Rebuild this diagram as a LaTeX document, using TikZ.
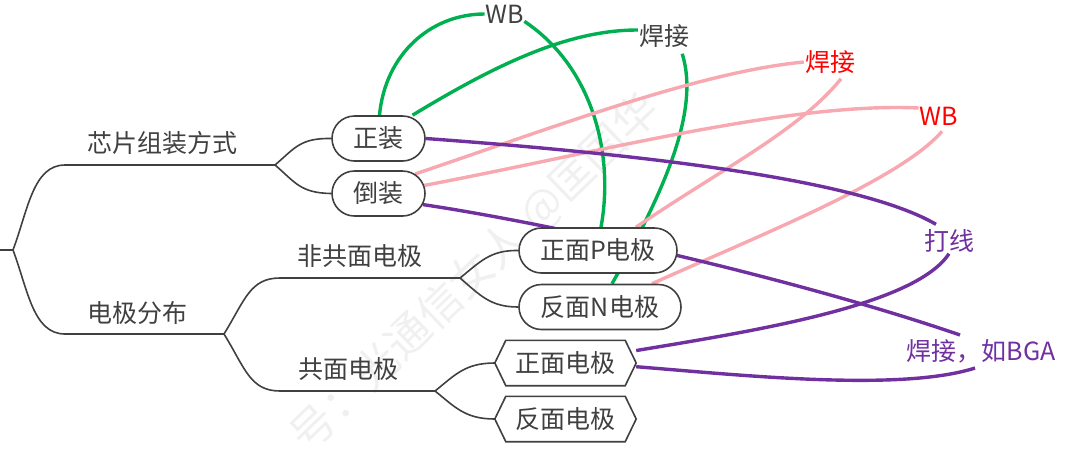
\documentclass[tikz,border=0pt]{standalone}
\usepackage{fontspec}
\setmainfont{Noto Sans CJK SC}
\usetikzlibrary{shapes.misc,backgrounds}
\definecolor{ink}{HTML}{404040}
\definecolor{gr}{HTML}{00B050}
\definecolor{pk}{HTML}{F7A8B0}
\definecolor{pu}{HTML}{7030A0}
\tikzset{
  x=1pt,y=-1pt,
  every node/.style={font=\fontsize{25}{25}\selectfont,text=ink,inner sep=0pt},
  pill/.style={draw=ink,line width=1.6pt,fill=white,rounded rectangle,minimum height=45pt},
  hexbox/.style={minimum width=141pt,minimum height=45pt},
  hexline/.style={draw=ink,line width=1.6pt,fill=white},
  branch/.style={draw=ink,line width=1.6pt},
  grn/.style={draw=gr,line width=3.4pt},
  pnk/.style={draw=pk,line width=3.4pt},
  pur/.style={draw=pu,line width=3.4pt},
  free/.style={inner sep=1pt},
  wm/.style={text=black!6,font=\fontsize{44}{44}\selectfont,rotate=44}
}
\begin{document}
\begin{tikzpicture}
\useasboundingbox (0,0) rectangle (1080,451);
% labels
\node (l1) at (162,143) {芯片组装方式};
\node (l2) at (137,313) {电极分布};
\node (l3) at (360,256) {非共面电极};
\node (l4) at (348,369) {共面电极};
% nodes
\node[pill,minimum width=93pt] (zz) at (378.5,138.5) {正装};
\node[pill,minimum width=93pt] (dz) at (378.5,193.5) {倒装};
\node[pill,minimum width=158pt] (zp) at (598,250.5) {正面P电极};
\node[pill,minimum width=162pt] (fn) at (600,307) {反面N电极};
\node[hexbox] (zm) at (565.5,363) {正面电极};
\node[hexbox] (fm) at (565.5,419) {反面电极};
\node[free] (wb) at (505,14) {WB};
\node[free] (hj) at (664,36) {焊接};
\node[free,text=red] (hr) at (830,62) {焊接};
\node[free,text=red] (wr) at (939,116) {WB};
\node[free,text=pu] (dx) at (949,241) {打线};
\node[free,text=pu] (bga) at (981,351) {焊接，如BGA};
\coordinate (stub) at (0,250);
\coordinate (root) at (13,250);
\coordinate (j1) at (275,165);
\coordinate (j2) at (224,334);
\coordinate (j3) at (460,278);
\coordinate (j4) at (435,391);
\begin{scope}[on background layer]
\node[wm] (mark) at (475,273) {号：光通信女人 @匡国华};
\draw[branch] (stub) -- (root);
\draw[branch] (root) .. controls (28,210) and (33,165) .. (65,165) -- (j1);
\draw[branch] (root) .. controls (28,290) and (33,334) .. (65,334) -- (j2);
\draw[branch] (j1) .. controls (295,148) and (300,138) .. (zz.west);
\draw[branch] (j1) .. controls (295,182) and (300,193) .. (dz.west);
\draw[branch] (j2) .. controls (245,300) and (250,278) .. (280,278) -- (j3);
\draw[branch] (j2) .. controls (245,368) and (250,391) .. (280,391) -- (j4);
\draw[branch] (j3) .. controls (480,262) and (490,250) .. (zp.west);
\draw[branch] (j3) .. controls (480,295) and (490,307) .. (fn.west);
\draw[branch] (j4) .. controls (455,375) and (465,363) .. (zm.west);
\draw[branch] (j4) .. controls (455,407) and (465,419) .. (fm.west);
% green
\draw[grn] ([xshift=1pt]zz.north) .. controls (385,55) and (430,14) .. (wb.west);
\draw[grn] ([xshift=-1pt,yshift=3pt]wb.south east) .. controls (590,65) and (615,150) .. ([xshift=3pt]zp.north);
\draw[grn] ([xshift=34pt]zz.north) .. controls (500,62) and (570,30) .. ([yshift=6pt]hj.west);
\draw[grn] ([xshift=-8pt,yshift=-5pt]hj.south east) .. controls (700,110) and (665,190) .. ([xshift=12pt]fn.north);
% pink
\draw[pnk] (dz.28) .. controls (560,125) and (700,72) .. (hr.west);
\draw[pnk] (dz.10) .. controls (600,152) and (790,102) .. ([yshift=8pt]wr.west);
\draw[pnk] ([xshift=11pt,yshift=-4pt]hr.south) .. controls (800,130) and (720,170) .. ([xshift=38pt]zp.north);
\draw[pnk] ([xshift=3pt,yshift=-5pt]wr.south) .. controls (900,180) and (760,235) .. ([xshift=52pt]fn.north);
% purple
\draw[pur] (zz.east) .. controls (650,155) and (860,180) .. ([xshift=-13pt,yshift=4pt]dx.north);
\draw[pur] (dz.-14) .. controls (560,225) and (800,280) .. ([xshift=-21pt,yshift=3pt]bga.north);
\draw[pur] (dx.south) .. controls (915,305) and (760,330) .. (zm.10);
\draw[pur] (zm.-3) .. controls (740,375) and (900,392) .. ([xshift=-6pt,yshift=-4pt]bga.south);
% hexagons
\draw[hexline] (zm.west) -- ([xshift=11pt]zm.north west) -- ([xshift=-11pt]zm.north east) -- (zm.east) -- ([xshift=-11pt]zm.south east) -- ([xshift=11pt]zm.south west) -- cycle;
\draw[hexline] (fm.west) -- ([xshift=11pt]fm.north west) -- ([xshift=-11pt]fm.north east) -- (fm.east) -- ([xshift=-11pt]fm.south east) -- ([xshift=11pt]fm.south west) -- cycle;
\end{scope}
\end{tikzpicture}
\end{document}
